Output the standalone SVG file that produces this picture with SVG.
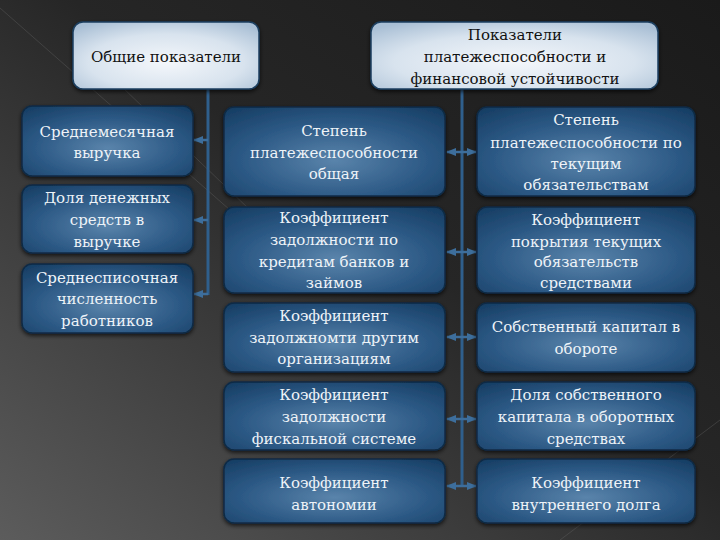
<svg xmlns="http://www.w3.org/2000/svg" width="720" height="540" viewBox="0 0 720 540">
<defs>
<linearGradient id="bg" x1="1" y1="0" x2="0" y2="1">
<stop offset="0" stop-color="#1a1a1a"/>
<stop offset="0.45" stop-color="#262626"/>
<stop offset="1" stop-color="#5c5c5c"/>
</linearGradient>
<radialGradient id="blue" cx="0.5" cy="0.6" r="0.75">
<stop offset="0" stop-color="#5a84ab"/>
<stop offset="0.55" stop-color="#2d5a86"/>
<stop offset="1" stop-color="#163d63"/>
</radialGradient>
<radialGradient id="light" cx="0.5" cy="0.6" r="0.7">
<stop offset="0" stop-color="#f4f7fb"/>
<stop offset="0.6" stop-color="#d8e3ee"/>
<stop offset="1" stop-color="#a9bfd5"/>
</radialGradient>
<filter id="sh" x="-10%" y="-10%" width="120%" height="130%">
<feDropShadow dx="0" dy="2" stdDeviation="2" flood-color="#000" flood-opacity="0.7"/>
</filter>
<marker id="ah" viewBox="0 0 10 10" refX="9" refY="5" markerWidth="4" markerHeight="4" orient="auto-start-reverse">
<path d="M0,1 L10,5 L0,9 z" fill="#3d6e9c"/>
</marker>
</defs>
<style>
.b{fill:url(#blue);stroke:#0f2a45;stroke-width:1.5;filter:url(#sh)}
.h{fill:url(#light);stroke:#1d3f60;stroke-width:1.5;filter:url(#sh)}
.t{font-family:"DejaVu Serif",serif;font-size:15px;fill:#eef3f8;text-anchor:middle}
.ht{font-family:"DejaVu Serif",serif;font-size:15px;fill:#111;text-anchor:middle}
.c{stroke:#2f5f8c;stroke-width:3;fill:none}
.a{stroke:#3d6e9c;stroke-width:2.5;fill:none;marker-end:url(#ah)}
.aa{stroke:#3d6e9c;stroke-width:2.5;fill:none;marker-end:url(#ah);marker-start:url(#ah)}
</style>
<rect width="720" height="540" fill="url(#bg)"/>
<g stroke="#6a6a6a" stroke-width="1" opacity="0.35">
<line x1="0" y1="8" x2="230" y2="210"/>
<line x1="120" y1="85" x2="250" y2="210"/>
<line x1="560" y1="540" x2="720" y2="420"/>
</g>
<g id="connectors">
<path class="c" d="M208,89 V295"/>
<path class="a" d="M208,140 H194"/>
<path class="a" d="M208,220 H194"/>
<path class="a" d="M208,294 H194"/>
<path class="c" d="M462,89 V487"/>
<path class="aa" d="M447,152 H476"/>
<path class="aa" d="M447,252 H476"/>
<path class="aa" d="M447,337 H476"/>
<path class="aa" d="M447,419 H476"/>
<path class="aa" d="M447,486 H476"/>
</g>
<g id="h1"><rect class="h" x="73" y="22" width="186" height="67" rx="10"/>
<text class="ht" x="166" y="62">Общие показатели</text></g>
<g id="h2"><rect class="h" x="371" y="22" width="287" height="67" rx="10"/>
<text class="ht" x="515" y="40">Показатели</text>
<text class="ht" x="515" y="62">платежеспособности и</text>
<text class="ht" x="515" y="84">финансовой устойчивости</text></g>
<g id="l1"><rect class="b" x="22" y="106" width="171" height="70" rx="10"/>
<text class="t" x="107" y="137">Среднемесячная</text>
<text class="t" x="107" y="158">выручка</text></g>
<g id="l2"><rect class="b" x="22" y="185" width="171" height="68" rx="10"/>
<text class="t" x="107" y="203">Доля денежных</text>
<text class="t" x="107" y="225">средств в</text>
<text class="t" x="107" y="247">выручке</text></g>
<g id="l3"><rect class="b" x="22" y="264" width="171" height="69" rx="10"/>
<text class="t" x="107" y="283">Среднесписочная</text>
<text class="t" x="107" y="304">численность</text>
<text class="t" x="107" y="326">работников</text></g>
<g id="m1"><rect class="b" x="224" y="107" width="221" height="89" rx="10"/>
<text class="t" x="334" y="136">Степень</text>
<text class="t" x="334" y="158">платежеспособности</text>
<text class="t" x="334" y="179">общая</text></g>
<g id="m2"><rect class="b" x="224" y="207" width="221" height="86" rx="10"/>
<text class="t" x="334" y="223">Коэффициент</text>
<text class="t" x="334" y="245">задолжности по</text>
<text class="t" x="334" y="267">кредитам банков и</text>
<text class="t" x="334" y="288">займов</text></g>
<g id="m3"><rect class="b" x="224" y="303" width="221" height="69" rx="10"/>
<text class="t" x="334" y="321">Коэффициент</text>
<text class="t" x="334" y="343">задолжномти другим</text>
<text class="t" x="334" y="364">организациям</text></g>
<g id="m4"><rect class="b" x="224" y="382" width="221" height="68" rx="10"/>
<text class="t" x="334" y="400">Коэффициент</text>
<text class="t" x="334" y="422">задолжности</text>
<text class="t" x="334" y="444">фискальной системе</text></g>
<g id="m5"><rect class="b" x="224" y="459" width="221" height="64" rx="10"/>
<text class="t" x="334" y="488">Коэффициент</text>
<text class="t" x="334" y="510">автономии</text></g>
<g id="r1"><rect class="b" x="477" y="107" width="218" height="89" rx="10"/>
<text class="t" x="586" y="125">Степень</text>
<text class="t" x="586" y="148">платежеспособности по</text>
<text class="t" x="586" y="169">текущим</text>
<text class="t" x="586" y="190">обязательствам</text></g>
<g id="r2"><rect class="b" x="477" y="207" width="218" height="86" rx="10"/>
<text class="t" x="586" y="225">Коэффициент</text>
<text class="t" x="586" y="247">покрытия текущих</text>
<text class="t" x="586" y="267">обязательств</text>
<text class="t" x="586" y="288">средствами</text></g>
<g id="r3"><rect class="b" x="477" y="303" width="218" height="69" rx="10"/>
<text class="t" x="586" y="332">Собственный капитал в</text>
<text class="t" x="586" y="354">обороте</text></g>
<g id="r4"><rect class="b" x="477" y="382" width="218" height="68" rx="10"/>
<text class="t" x="586" y="400">Доля собственного</text>
<text class="t" x="586" y="422">капитала в оборотных</text>
<text class="t" x="586" y="444">средствах</text></g>
<g id="r5"><rect class="b" x="477" y="459" width="218" height="64" rx="10"/>
<text class="t" x="586" y="488">Коэффициент</text>
<text class="t" x="586" y="510">внутреннего долга</text></g>
</svg>
